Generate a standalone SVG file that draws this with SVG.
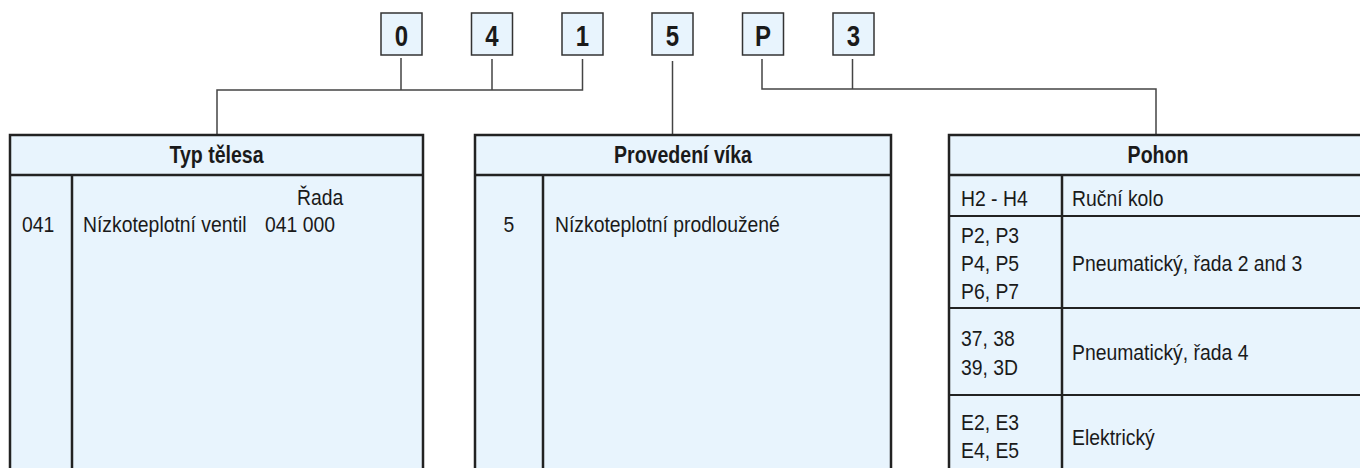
<svg xmlns="http://www.w3.org/2000/svg" width="1360" height="468" viewBox="0 0 1360 468">
<style>
.box{fill:#e8f4fd;stroke:#333;stroke-width:1.5}
.dig{font-family:"Liberation Sans",Arial,sans-serif;font-weight:bold;font-size:30px;fill:#1a1a1a;text-anchor:middle}
.tbl{fill:#e8f4fd;stroke:#222;stroke-width:2.5}
.div{stroke:#222;stroke-width:2.5;fill:none}
.row{stroke:#222;stroke-width:2;fill:none}
.hd{font-family:"Liberation Sans",Arial,sans-serif;font-weight:bold;font-size:23px;fill:#1a1a1a;text-anchor:middle}
.t{font-family:"Liberation Sans",Arial,sans-serif;font-size:22px;fill:#1a1a1a}
.c{stroke:#444;stroke-width:1.5;fill:none}
</style>
<g id="code">
<g id="d0"><rect class="box" x="381" y="13" width="41" height="42"/><text class="dig" transform="scale(0.8,1)" x="501.875" y="46">0</text></g>
<g id="d4"><rect class="box" x="471.5" y="13" width="41" height="42"/><text class="dig" transform="scale(0.8,1)" x="615" y="46">4</text></g>
<g id="d1"><rect class="box" x="562" y="13" width="41" height="42"/><text class="dig" transform="scale(0.8,1)" x="728.125" y="46">1</text></g>
<g id="d5"><rect class="box" x="652" y="13" width="41" height="42"/><text class="dig" transform="scale(0.8,1)" x="840.625" y="46">5</text></g>
<g id="dP"><rect class="box" x="742.5" y="13" width="41" height="42"/><text class="dig" transform="scale(0.8,1)" x="953.75" y="46">P</text></g>
<g id="d3"><rect class="box" x="833" y="13" width="41" height="42"/><text class="dig" transform="scale(0.8,1)" x="1066.875" y="46">3</text></g>
</g>
<g id="connectors">
<path class="c" d="M401 58V90M492 59V90M582.5 59V90H217V134M217 90H401"/>
<path class="c" d="M672.5 61V134"/>
<path class="c" d="M762 59V89H1156V134M852.5 59V89"/>
</g>
<g id="typ-telesa">
<rect class="tbl" x="10" y="135" width="413" height="345"/>
<path class="div" d="M10 175H423M72 175V480"/>
<text class="hd" transform="scale(0.85,1)" x="254.71" y="163">Typ tělesa</text>
<g transform="scale(0.88,1)">
<text class="t" x="337.5" y="205">Řada</text>
<text class="t" x="25" y="232">041</text>
<text class="t" x="94.32" y="232">Nízkoteplotní ventil</text>
<text class="t" x="301.14" y="232">041 000</text>
</g>
</g>
<g id="provedeni-vika">
<rect class="tbl" x="475" y="135" width="416" height="345"/>
<path class="div" d="M475 175H891M543 175V480"/>
<text class="hd" transform="scale(0.85,1)" x="803.53" y="163">Provedení víka</text>
<g transform="scale(0.88,1)">
<text class="t" x="578.41" y="232" text-anchor="middle">5</text>
<text class="t" x="630.68" y="232">Nízkoteplotní prodloužené</text>
</g>
</g>
<g id="pohon">
<rect class="tbl" x="949" y="135" width="420" height="345"/>
<path class="div" d="M949 175H1369M1062 175V480"/>
<path class="row" d="M949 216H1369M949 308H1369M949 395H1369"/>
<text class="hd" transform="scale(0.85,1)" x="1362.35" y="163">Pohon</text>
<g transform="scale(0.88,1)">
<text class="t" x="1092.05" y="206">H2 - H4</text>
<text class="t" x="1218.18" y="206">Ruční kolo</text>
<text class="t" x="1092.05" y="243">P2, P3</text>
<text class="t" x="1092.05" y="271">P4, P5</text>
<text class="t" x="1092.05" y="299">P6, P7</text>
<text class="t" x="1218.18" y="271">Pneumatický, řada 2 and 3</text>
<text class="t" x="1092.05" y="346">37, 38</text>
<text class="t" x="1092.05" y="375">39, 3D</text>
<text class="t" x="1218.18" y="360">Pneumatický, řada 4</text>
<text class="t" x="1092.05" y="430">E2, E3</text>
<text class="t" x="1092.05" y="458">E4, E5</text>
<text class="t" x="1218.18" y="445">Elektrický</text>
</g>
</g>
</svg>
